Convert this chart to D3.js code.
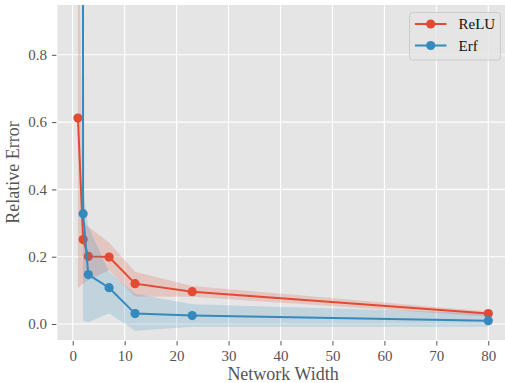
<!DOCTYPE html>
<html lang="en">
<head>
    <meta charset="UTF-8">
    <title>Relative Error</title>
    <script src="https://cdn.jsdelivr.net/npm/d3@7"></script>
    <style>
        body { margin: 0; background: #fff; }
        text { font-family: "Liberation Serif", "DejaVu Serif", serif; }
    </style>
</head>
<body>
<script type="text/javascript">
    // network widths and the two activation series (mean + band)
    var widths = [1, 2, 3, 7, 12, 23, 80];
    var reluMean = [0.612, 0.251, 0.201, 0.199, 0.120, 0.096, 0.031];
    var reluLow = [0.106, 0.120, 0.130, 0.160, 0.082, 0.081, 0.022];
    var reluHigh = [1.40, 0.300, 0.289, 0.242, 0.155, 0.113, 0.037];
    var erfMean = [30, 0.328, 0.147, 0.108, 0.031, 0.025, 0.010];
    var erfLow = [6.0, 0.010, 0.005, 0.032, -0.020, -0.008, -0.008];
    var erfHigh = [60, 0.40, 0.290, 0.155, 0.090, 0.059, 0.032];
    var xTicks = [0, 10, 20, 30, 40, 50, 60, 70, 80];
    var yTicks = [0.0, 0.2, 0.4, 0.6, 0.8];

    var width = 505;
    var height = 383;
    // note: "top" is a read-only window property, so use plot* names
    var plotLeft = 57.4, plotRight = 508.8, plotTop = 5, plotBottom = 340;

    var svg = d3.select('body').append('svg')
            .attr('width', width)
            .attr('height', height);

    var x = d3.scaleLinear().domain([-2.95, 83.95]).range([plotLeft, plotRight]);
    var y = d3.scaleLinear().domain([-0.0475, 0.948]).range([plotBottom, plotTop]);

    svg.append('clipPath').attr('id', 'plot-clip')
            .append('rect')
            .attr('x', plotLeft).attr('y', plotTop)
            .attr('width', plotRight - plotLeft).attr('height', plotBottom - plotTop);

    svg.append('rect')
            .attr('x', plotLeft).attr('y', plotTop)
            .attr('width', plotRight - plotLeft).attr('height', plotBottom - plotTop)
            .attr('fill', '#E5E5E5');

    // grid
    svg.append('g').selectAll('line')
            .data(xTicks).enter().append('line')
            .attr('x1', function (d) { return x(d); })
            .attr('x2', function (d) { return x(d); })
            .attr('y1', plotTop).attr('y2', plotBottom)
            .attr('stroke', '#fff').attr('stroke-width', 1.1);
    svg.append('g').selectAll('line')
            .data(yTicks).enter().append('line')
            .attr('y1', function (d) { return y(d); })
            .attr('y2', function (d) { return y(d); })
            .attr('x1', plotLeft).attr('x2', plotRight)
            .attr('stroke', '#fff').attr('stroke-width', 1.1);

    // axes
    var xAxis = svg.append('g')
            .attr('transform', 'translate(0,' + (plotBottom + 1) + ')')
            .call(d3.axisBottom(x).tickValues(xTicks).tickSize(4.5).tickPadding(5)
                    .tickFormat(d3.format('d')));
    var yAxis = svg.append('g')
            .attr('transform', 'translate(' + (plotLeft - 1) + ',0)')
            .call(d3.axisLeft(y).tickValues(yTicks).tickSize(4.5).tickPadding(5)
                    .tickFormat(d3.format('.1f')));
    [xAxis, yAxis].forEach(function (g) {
        g.select('.domain').remove();
        g.selectAll('line').attr('stroke', '#555').attr('stroke-width', 1);
        g.selectAll('text').attr('fill', '#555')
                .style('font-family', '"Liberation Serif", serif')
                .style('font-size', '15px');
    });

    svg.append('text')
            .attr('x', (plotLeft + plotRight) / 2).attr('y', 380)
            .attr('text-anchor', 'middle')
            .attr('fill', '#555').style('font-size', '18px')
            .text('Network Width');
    svg.append('text')
            .attr('transform', 'translate(19,' + ((plotTop + plotBottom) / 2) + ') rotate(-90)')
            .attr('text-anchor', 'middle')
            .attr('fill', '#555').style('font-size', '18px')
            .text('Relative Error');

    var series = [
        {name: 'ReLU', color: '#E24A33', mean: reluMean, low: reluLow, high: reluHigh},
        {name: 'Erf', color: '#348ABD', mean: erfMean, low: erfLow, high: erfHigh}
    ];

    var plot = svg.append('g').attr('clip-path', 'url(#plot-clip)');

    var area = d3.area()
            .x(function (d) { return x(d[0]); })
            .y0(function (d) { return y(d[1]); })
            .y1(function (d) { return y(d[2]); });
    var line = d3.line()
            .x(function (d) { return x(d[0]); })
            .y(function (d) { return y(d[1]); });

    series.forEach(function (s) {
        var pts = widths.map(function (w, i) {
            return [w, s.mean[i], s.low[i], s.high[i]];
        });
        plot.append('path')
                .attr('d', area(pts.map(function (p) { return [p[0], p[2], p[3]]; })))
                .attr('fill', s.color).attr('fill-opacity', 0.2);
        plot.append('path')
                .attr('d', line(pts))
                .attr('fill', 'none')
                .attr('stroke', s.color).attr('stroke-width', 2);
        plot.selectAll(null)
                .data(pts).enter().append('circle')
                .attr('cx', function (d) { return x(d[0]); })
                .attr('cy', function (d) { return y(d[1]); })
                .attr('r', 4.6)
                .attr('fill', s.color);
    });

    // legend
    var legend = svg.append('g');
    legend.append('rect')
            .attr('x', 409.5).attr('y', 12.5)
            .attr('width', 91).attr('height', 47.5)
            .attr('rx', 3)
            .attr('fill', '#E5E5E5').attr('fill-opacity', 0.8)
            .attr('stroke', '#CCCCCC').attr('stroke-width', 1);
    series.forEach(function (s, i) {
        var ly = 24 + i * 21.5;
        legend.append('line')
                .attr('x1', 415).attr('x2', 446.5)
                .attr('y1', ly).attr('y2', ly)
                .attr('stroke', s.color).attr('stroke-width', 2);
        legend.append('circle')
                .attr('cx', 430.7).attr('cy', ly).attr('r', 4.6)
                .attr('fill', s.color);
        legend.append('text')
                .attr('x', 458.5).attr('y', ly + 5.3)
                .attr('fill', '#111').style('font-size', '15px')
                .text(s.name);
    });
</script>
</body>
</html>
